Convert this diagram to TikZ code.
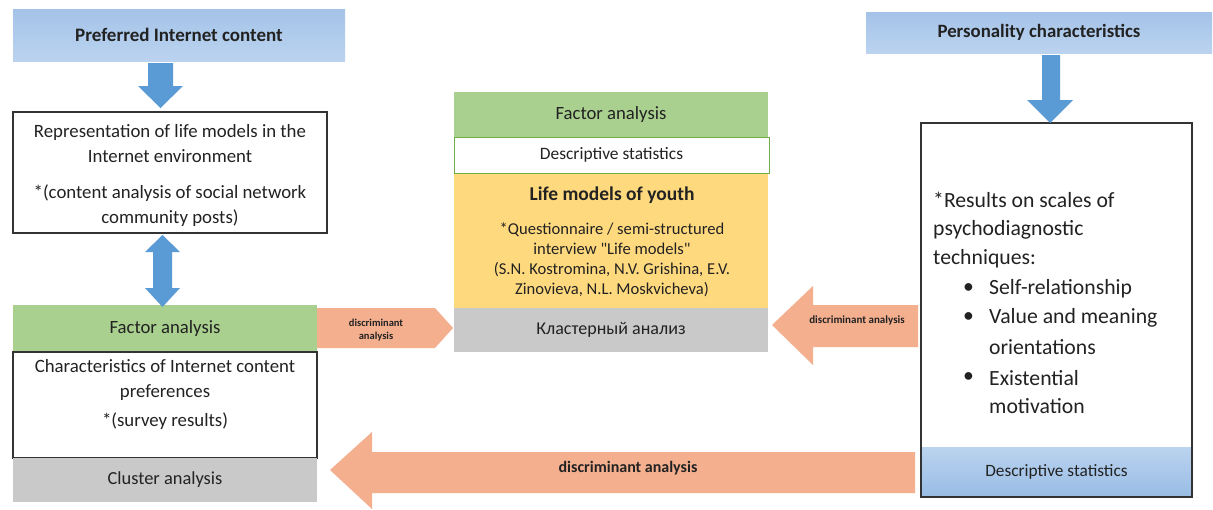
\documentclass[tikz,border=0pt]{standalone}
\usepackage{fontspec}
\setmainfont{Carlito}[Ligatures=TeXOff]
\definecolor{hdrblue}{HTML}{A4C3E8}
\definecolor{hdrblueb}{HTML}{BBD3EF}
\definecolor{arrblue}{HTML}{5B9BD5}
\definecolor{grn}{HTML}{A9D08E}
\definecolor{grnline}{HTML}{70AD47}
\definecolor{yel}{HTML}{FFD97E}
\definecolor{gry}{HTML}{C9C9C9}
\definecolor{salmon}{HTML}{F4AF8F}
\definecolor{txt}{HTML}{222222}
\begin{document}
\begin{tikzpicture}[x=1pt,y=-1pt,
  box/.style={anchor=north west,inner sep=0pt,outer sep=0pt},
  hdr/.style={box,top color=hdrblue,bottom color=hdrblueb,draw=none},
  wbox/.style={box,fill=white,draw=black!80,line width=1.1pt},
  gbox/.style={box,fill=grn},
  graybox/.style={box,fill=gry},
  ybox/.style={box,fill=yel},
  barrow/.style={fill=arrblue,draw=none},
  sarrow/.style={fill=salmon,draw=none},
  hfont/.style={font=\bfseries\fontsize{19}{22}\selectfont,text=txt},
  lbl/.style={font=\fontsize{18.7}{22}\selectfont,text=txt},
  mfont/.style={font=\fontsize{18.8}{25}\selectfont,text=txt,align=center},
  cfont/.style={font=\fontsize{16.6}{20}\selectfont,text=txt,align=center},
  rfont/.style={font=\fontsize{21.7}{29}\selectfont,text=txt,anchor=west,inner sep=0pt},
  tiny/.style={font=\bfseries\fontsize{10.5}{13}\selectfont,text=txt,align=center}
]
\useasboundingbox (0,0) rectangle (1213,509);
\fill[white] (0,0) rectangle (1213,509);

% ---- left column
\node[hdr,minimum width=332pt,minimum height=52pt] (pic) at (13,9) {};
\node[hfont] (pict) at (pic.center) {Preferred Internet content};

\node[wbox,minimum width=314pt,minimum height=121pt] (rep) at (13,112) {};
\node[mfont] (rept) at (170,175) {Representation of life models in the\\Internet environment\\[11pt]*(content analysis of social network\\community posts)};

\node[gbox,minimum width=304pt,minimum height=47pt] (lfa) at (13,305) {};
\node[lbl] (lfat) at (lfa.center) {Factor analysis};
\node[wbox,minimum width=304pt,minimum height=106pt] (lch) at (13,352) {};
\node[mfont] (lcht) at (165,394) {Characteristics of Internet content\\preferences\\[4pt]*(survey results)};
\node[graybox,minimum width=304pt,minimum height=44pt] (lca) at (13,458) {};
\node[lbl,font=\fontsize{18.4}{22}\selectfont] (lcat) at (lca.center) {Cluster analysis};

% ---- centre column
\node[gbox,minimum width=314pt,minimum height=45pt] (cfa) at (454,92) {};
\node[lbl] (cfat) at (cfa.center) {Factor analysis};
\node[ybox,minimum width=314pt,minimum height=135pt] (clm) at (454,173) {};
\node[box,fill=white,draw=grnline,line width=0.9pt,minimum width=315pt,minimum height=36pt] (cds) at (454,137) {};
\node[font=\fontsize{17.4}{20}\selectfont,text=txt] (cdst) at (cds.center) {Descriptive statistics};
\node[font=\bfseries\fontsize{19.5}{22}\selectfont,text=txt] (clmt) at (612,195) {Life models of youth};
\node[cfont] (clmb) at (612,260) {*Questionnaire / semi-structured\\interview "Life models"\\(S.N. Kostromina, N.V. Grishina, E.V.\\Zinovieva, N.L. Moskvicheva)};
\node[graybox,minimum width=314pt,minimum height=44pt] (cca) at (454,308) {};
\node[font=\fontsize{18}{22}\selectfont,text=txt] (ccat) at (cca.center) {Кластерный анализ};

% ---- right column
\node[hdr,minimum width=346pt,minimum height=41pt] (pc) at (866,12) {};
\node[hfont,font=\bfseries\fontsize{18.8}{22}\selectfont] (pct) at (pc.center) {Personality characteristics};

\node[wbox,minimum width=271pt,minimum height=374pt] (res) at (921,123) {};
\node[box,top color=hdrblueb,bottom color=hdrblue!85!arrblue,minimum width=270pt,minimum height=49pt] (rds) at (921.5,447) {};
\draw[black!80,line width=1.1pt] (res.north west) rectangle (res.south east);
\node[font=\fontsize{17.3}{20}\selectfont,text=txt] (rdst) at (rds.center) {Descriptive statistics};

\node[rfont] (r1) at (933,200) {*Results on scales of};
\node[rfont] (r2) at (933,230) {psychodiagnostic};
\node[rfont] (r3) at (933,259) {techniques:};
\node[rfont] (b1) at (963,289) {\textbullet};
\node[rfont] (r4) at (989,289) {Self-relationship};
\node[rfont] (b2) at (963,318) {\textbullet};
\node[rfont] (r5) at (989,318) {Value and meaning};
\node[rfont] (r6) at (989,347) {orientations};
\node[rfont] (b3) at (963,378) {\textbullet};
\node[rfont] (r7) at (989,378) {Existential};
\node[rfont] (r8) at (989,406) {motivation};

% ---- block arrows
\path[barrow] (148,63) -- (173,63) -- (173,86) -- (183,86) -- (160.5,108) -- (138,86) -- (148,86) -- cycle;
\path[barrow] (1042,55) -- (1060,55) -- (1060,100) -- (1073,100) -- (1050,123) -- (1027,100) -- (1042,100) -- cycle;
\path[barrow] (162.5,235) -- (180,252) -- (172,252) -- (172,288) -- (180,288) -- (162.5,307) -- (145,288) -- (153,288) -- (153,252) -- (145,252) -- cycle;

\path[sarrow] (317,308) -- (435,308) -- (453,328) -- (435,348) -- (317,348) -- cycle;
\node[tiny] (d1) at (376,330) {discriminant\\analysis};

\path[sarrow] (772,325) -- (813,286) -- (813,305) -- (918,305) -- (918,347) -- (813,347) -- (813,365) -- cycle;
\node[tiny,font=\bfseries\fontsize{11}{13}\selectfont] (d2) at (857,321) {discriminant analysis};

\path[sarrow] (330,470) -- (372,432) -- (372,452) -- (915,452) -- (915,493) -- (372,493) -- (372,509) -- cycle;
\node[font=\bfseries\fontsize{16}{18}\selectfont,text=txt] (d3) at (628,468) {discriminant analysis};
\end{tikzpicture}
\end{document}
